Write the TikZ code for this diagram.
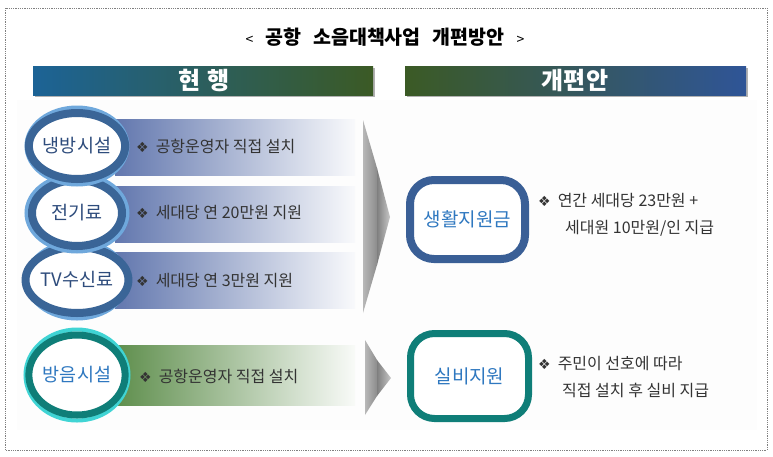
\documentclass[tikz,border=0pt]{standalone}
\usepackage{fontspec}
\setmainfont{Noto Sans CJK KR}
\newfontfamily\symfont{DejaVu Sans}
\usetikzlibrary{shapes.geometric}
\definecolor{hdA}{HTML}{1C6396}
\definecolor{hdB}{HTML}{3B5A25}
\definecolor{hdC}{HTML}{2F5597}
\definecolor{bandB}{HTML}{6277AE}
\definecolor{bandG}{HTML}{5E8E4C}
\definecolor{ringD}{HTML}{3A6597}
\definecolor{ringL}{HTML}{6FA8DC}
\definecolor{tealD}{HTML}{0F7E78}
\definecolor{tealL}{HTML}{40D4D4}
\definecolor{navyT}{HTML}{2E4C7C}
\definecolor{blueT}{HTML}{2F78C0}
\definecolor{boxB}{HTML}{3A5F96}
\definecolor{bodyT}{HTML}{333333}
\newcommand\dia{{\symfont\fontsize{14}{14}\selectfont ❖}\hspace{7pt}}
\tikzset{
  ringnode/.style={ellipse, fill=white, inner sep=0pt, font=\fontsize{18.5}{20}\selectfont},
  rbox/.style={rectangle, rounded corners=24pt, fill=white, inner sep=0pt, text=blueT, font=\fontsize{19}{21}\selectfont},
  ltext/.style={anchor=west, inner sep=0pt, text=bodyT, font=\fontsize{16}{18}\selectfont},
  hdtext/.style={text=white, font=\bfseries\fontsize{24}{26}\selectfont, inner sep=0pt}
}
\begin{document}
\begin{tikzpicture}[x=1pt,y=-1pt]
\useasboundingbox (0,0) rectangle (773,456);
\fill[white] (0,0) rectangle (773,456);
\fill[black!0.8] (17,100) rectangle (757,430);
\draw[densely dotted, gray, line width=0.8pt] (5,8) rectangle (767,450);
% title
\node[text=black, inner sep=0pt] (title) at (385,37) {{\fontsize{14}{15}\selectfont <}\hspace{12pt}{\bfseries\fontsize{19.5}{22}\selectfont 공항\hspace{12pt}소음대책사업\hspace{12pt}개편방안}\hspace{12pt}{\fontsize{14}{15}\selectfont >}};
% headers
\fill[black!30] (35,68) rectangle (375,97);
\shade[left color=hdA, right color=hdB] (33,66) rectangle (373,95);
\node[hdtext] (h1) at (204,80) {현\hspace{7pt}행};
\fill[black!30] (407,68) rectangle (748,97);
\shade[left color=hdB, right color=hdC] (405,66) rectangle (746,95);
\node[hdtext] (h2) at (575,80) {개편안};
% bands
\shade[left color=bandB, right color=white!96!bandB] (115,119) rectangle (355,175);
\shade[left color=bandB, right color=white!96!bandB] (115,186) rectangle (355,242);
\shade[left color=bandB, right color=white!96!bandB] (115,252) rectangle (355,308);
\shade[left color=bandG, right color=white!96!bandG] (115,345) rectangle (355,405);
% gray chevrons
\shade[left color=black!28, right color=black!45] (363,120) -- (377,168) -- (377,265) -- (363,313) -- cycle;
\shade[left color=black!50, right color=black!22] (377,168) -- (390,217) -- (377,265) -- cycle;
\shade[left color=black!28, right color=black!45] (365,340) -- (377,360) -- (377,396) -- (365,415) -- cycle;
\shade[left color=black!50, right color=black!22] (377,360) -- (391,378) -- (377,396) -- cycle;
% rings (lower first)
\draw[ringL, line width=4pt] (77,280) ellipse (50.5 and 38.5);
\node[ringnode, draw=ringD, line width=8pt, minimum width=90pt, minimum height=66pt, text=navyT] (c3) at (77,280) {TV수신료};
\draw[ringL, line width=4pt] (77,213) ellipse (50.5 and 38.5);
\node[ringnode, draw=ringD, line width=8pt, minimum width=90pt, minimum height=66pt, text=navyT] (c2) at (77,213) {전기료};
\draw[ringL, line width=4pt] (77,146) ellipse (50.5 and 38.5);
\node[ringnode, draw=ringD, line width=8pt, minimum width=90pt, minimum height=66pt, text=navyT] (c1) at (77,146) {냉방시설};
\draw[tealL, line width=4pt] (77,375) ellipse (51.5 and 45.5);
\node[ringnode, draw=tealD, line width=7pt, minimum width=94pt, minimum height=80pt, text=blueT] (c4) at (77,375) {방음시설};
% left texts
\node[ltext] (l1) at (136,146) {\dia 공항운영자 직접 설치};
\node[ltext] (l2) at (136,213) {\dia 세대당 연 20만원 지원};
\node[ltext] (l3) at (136,280) {\dia 세대당 연 3만원 지원};
\node[ltext] (l4) at (139,376) {\dia 공항운영자 직접 설치};
% right boxes
\node[rbox, draw=boxB, line width=8pt, minimum width=115pt, minimum height=79pt] (r1) at (467.5,219.5) {생활지원금};
\node[rbox, draw=tealD, line width=7pt, minimum width=118pt, minimum height=85pt] (r2) at (469.5,376) {실비지원};
% right texts
\node[ltext] (t1a) at (538,201) {\dia 연간 세대당 23만원 +};
\node[ltext] (t1b) at (565,228) {세대원 10만원/인 지급};
\node[ltext] (t2a) at (538,363) {\dia 주민이 선호에 따라};
\node[ltext] (t2b) at (562,390) {직접 설치 후 실비 지급};
\end{tikzpicture}
\end{document}
